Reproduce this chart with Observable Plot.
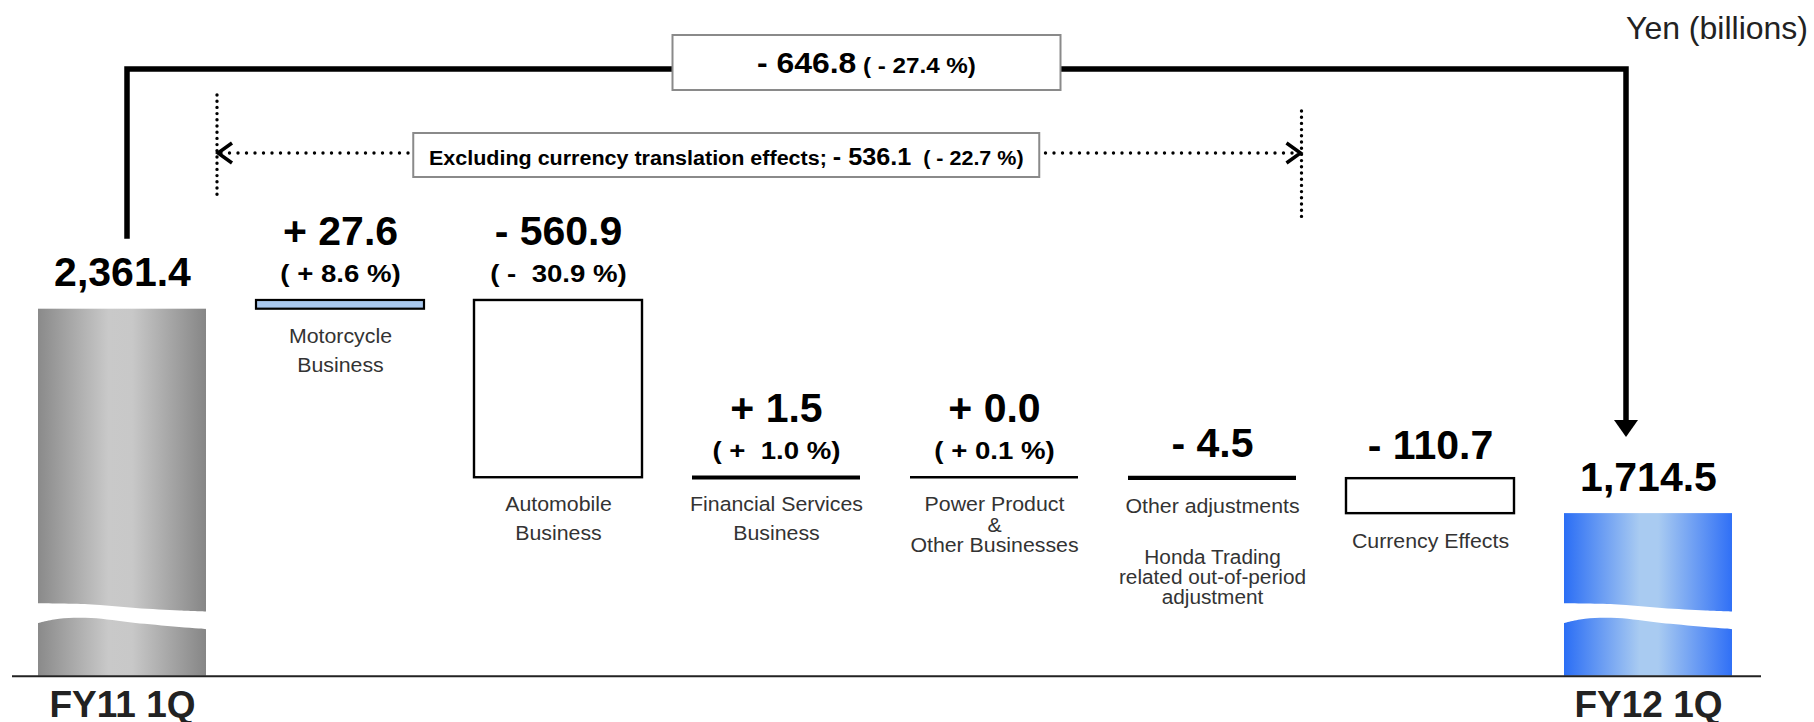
<!DOCTYPE html>
<html><head><meta charset="utf-8">
<script src="https://cdn.jsdelivr.net/npm/d3@7"></script>
<script src="https://cdn.jsdelivr.net/npm/@observablehq/plot@0.6"></script>
<style>
html,body{margin:0;padding:0;background:#fff;}
#chart svg{display:block;}
</style></head><body><div id="chart"></div>
<script>
// ---------- data ----------
const categories = ["FY11 1Q", "Motorcycle", "Automobile", "Financial", "Power", "Other", "Currency", "FY12 1Q"];
const categoryLabels = ["", "Motorcycle\nBusiness", "Automobile\nBusiness", "Financial Services\nBusiness", "Power Product\n&\nOther Businesses", "Other adjustments", "Currency Effects", ""];
const categoryNotes = ["", "", "", "", "", "Honda Trading\nrelated out-of-period\nadjustment", "", ""];
const periodLabels = ["FY11 1Q", "FY12 1Q"];
const totals = [2361.4, 1714.5];
const totalLabels = ["2,361.4", "1,714.5"];
const changes = [27.6, -560.9, 1.5, 0.0, -4.5, -110.7];
const changeLabels = ["+ 27.6", "- 560.9", "+ 1.5", "+ 0.0", "- 4.5", "- 110.7"];
const changePctLabels = ["( + 8.6 %)", "( -  30.9 %)", "( +  1.0 %)", "( + 0.1 %)", "", ""];
const totalChangeLabel = "- 646.8";
const totalChangePctLabel = " ( - 27.4 %)";
const exCurrencyText = "Excluding currency translation effects; ";
const exCurrencyLabel = "- 536.1";
const exCurrencyPctLabel = "  ( - 22.7 %)";
const unitLabel = "Yen (billions)";
const axisBreakValue = 1200;   // y-axis is broken: bars start here
const yTopValue = 2400;

const FONT = "'Liberation Sans', Arial, Helvetica, sans-serif";

// ---------- derived rows ----------
const yRange = [675.7, 296.5];
const pxPerUnit = (yRange[0] - yRange[1]) / (yTopValue - axisBreakValue);
let run = totals[0];
const steps = changes.map((c, i) => {
  const start = run; run += c;
  return {cat: categories[i + 1], start, end: run, change: c, label: changeLabels[i], pct: changePctLabels[i],
          name: categoryLabels[i + 1], note: categoryNotes[i + 1],
          top: Math.max(start, run), bottom: Math.min(start, run),
          flat: Math.abs(c) * pxPerUnit < 3};
});
const totalRows = totals.map((v, i) => ({cat: i ? categories[categories.length - 1] : categories[0], value: v, label: totalLabels[i], period: periodLabels[i]}));

const barsUp = steps.filter(d => !d.flat && d.change > 0);
const barsDown = steps.filter(d => !d.flat && d.change <= 0);
const flats = steps.filter(d => d.flat);
const withPct = steps.filter(d => d.pct);
const noPct = steps.filter(d => !d.pct);
const namesTwo = steps.filter(d => d.name.split("\n").length === 2);
const namesOther = steps.filter(d => d.name && d.name.split("\n").length !== 2);
const notes = steps.filter(d => d.note);

const plot = Plot.plot({
  width: 1814, height: 722,
  marginTop: 0, marginBottom: 0, marginLeft: 12, marginRight: 53,
  x: {domain: categories, range: [37, 1733], paddingInner: 0.23, paddingOuter: 0, axis: null},
  y: {domain: [axisBreakValue, yTopValue], range: yRange, axis: null},
  style: {fontFamily: FONT, background: "#fff", overflow: "visible"},
  marks: [
    Plot.barY(totalRows.slice(0, 1), {x: "cat", y1: axisBreakValue, y2: "value", fill: "url(#gradGray)"}),
    Plot.barY(totalRows.slice(1), {x: "cat", y1: axisBreakValue, y2: "value", fill: "url(#gradBlue)"}),
    Plot.barY(barsUp, {x: "cat", y1: "start", y2: "end", fill: "#a9c8ee", stroke: "#000", strokeWidth: 2.2}),
    Plot.barY(barsDown, {x: "cat", y1: "start", y2: "end", fill: "#fff", stroke: "#000", strokeWidth: 2.4}),
    Plot.tickY(flats, {x: "cat", y: d => (d.start + d.end) / 2, stroke: "#000", strokeWidth: d => d.change === 0 ? 2.5 : 4.2}),
    Plot.ruleY([axisBreakValue], {stroke: "#222", strokeWidth: 2}),
    // value labels
    Plot.text(withPct, {x: "cat", y: "top", text: "label", dy: -55, lineAnchor: "bottom", fontSize: 41, fontWeight: "bold", fill: "#000"}),
    Plot.text(withPct, {x: "cat", y: "top", text: "pct", dy: -18, lineAnchor: "bottom", fontSize: 24, fontWeight: "bold", fill: "#000"}),
    Plot.text(noPct, {x: "cat", y: "top", text: "label", dy: -20, lineAnchor: "bottom", fontSize: 41, fontWeight: "bold", fill: "#000"}),
    Plot.text(totalRows, {x: "cat", y: "value", text: "label", dy: -23, lineAnchor: "bottom", fontSize: 41, fontWeight: "bold", fill: "#000"}),
    Plot.text(totalRows, {x: "cat", y: axisBreakValue, text: "period", dy: 41, lineAnchor: "bottom", fontSize: 37, fontWeight: "bold", fill: "#222"}),
    // category labels
    Plot.text(namesTwo, {x: "cat", y: "bottom", text: "name", dy: 12.9, lineAnchor: "top", lineHeight: 1.42, fontSize: 20.5, fill: "#333"}),
    Plot.text(namesOther, {x: "cat", y: "bottom", text: "name", dy: 19.4, lineAnchor: "top", lineHeight: 1.0, fontSize: 20.5, fill: "#333"}),
    Plot.text(notes, {x: "cat", y: "bottom", text: "note", dy: 71, lineAnchor: "top", lineHeight: 1.0, fontSize: 20, fill: "#333"})
  ]
});

document.getElementById("chart").appendChild(plot);

// ---------- annotations ----------
const svg = d3.select(plot);
const xs = plot.scale("x"), ys = plot.scale("y");
const bw = xs.bandwidth;
const bx = c => xs.apply(c);
const cx = c => xs.apply(c) + bw / 2;
const yb = ys.apply(axisBreakValue);

// horizontal stretch helper (reference type is set slightly wide)
function stretch(node, s) {
  const b = node.getBBox();
  const c = b.x + b.width / 2;
  const t = node.getAttribute("transform") || "";
  node.setAttribute("transform", `${t} translate(${c},0) scale(${s},1) translate(${-c},0)`);
}
const pctSet = new Set(changePctLabels.filter(Boolean));
svg.selectAll("text").filter(function() { return pctSet.has(this.textContent); }).each(function() { stretch(this, 1.15); });
const nameSet = new Set(categoryLabels.concat(categoryNotes).flatMap(s => s.split("\n")).filter(Boolean));
svg.selectAll("text").filter(function() { return this.textContent && [...this.querySelectorAll("tspan")].length === 0 && nameSet.has(this.textContent); }).each(function() { stretch(this, 1.04); });
svg.selectAll("text").filter(function() { return this.querySelectorAll("tspan").length > 0 && categoryLabels.concat(categoryNotes).includes([...this.querySelectorAll("tspan")].map(t => t.textContent).join("\n")); }).each(function() { stretch(this, 1.04); });

const defs = svg.insert("defs", ":first-child");
function grad(id, stops) {
  const g = defs.append("linearGradient").attr("id", id).attr("x1", 0).attr("x2", 1).attr("y1", 0).attr("y2", 0);
  stops.forEach(([o, c]) => g.append("stop").attr("offset", o).attr("stop-color", c));
}
grad("gradGray", [[0, "#8a8a8a"], [0.42, "#c9c9c9"], [0.56, "#c8c8c8"], [1, "#868686"]]);
grad("gradBlue", [[0, "#2b6ef5"], [0.45, "#a9cbf1"], [0.56, "#a9cbf1"], [1, "#3070f6"]]);

// axis-break waves
const waveTop = [[0, -72.5], [0.3, -71.5], [0.58, -67.8], [0.84, -65.2], [1, -64.2]];
const waveBot = [[0, -52.5], [0.13, -57], [0.32, -57.7], [0.58, -52.8], [1, -46.5]];
const wline = d3.line().curve(d3.curveCatmullRom.alpha(0.5));
for (const c of [categories[0], categories[categories.length - 1]]) {
  const x0 = bx(c) - 1, w = bw + 2;
  const top = waveTop.map(([t, d]) => [x0 + t * w, yb + d]);
  const bot = waveBot.map(([t, d]) => [x0 + t * w, yb + d]).reverse();
  const d = wline(top) + wline(bot).replace(/^M/, "L") + "Z";
  svg.append("path").attr("d", d).attr("fill", "#fff");
}

// total change bracket
const yTop = 69;
const xl = cx(categories[0]) + 5, xr = cx(categories[categories.length - 1]) - 22;
const yl = ys.apply(totals[0]) - 70;
const tip = ys.apply(totals[1]) - 76;
svg.append("path").attr("d", `M${xl},${yl}V${yTop}H${xr}V${tip - 14}`)
  .attr("fill", "none").attr("stroke", "#000").attr("stroke-width", 5.5);
svg.append("path").attr("d", `M${xr - 12},${tip - 17}L${xr + 12},${tip - 17}L${xr},${tip}Z`).attr("fill", "#000");
const b1cx = (xl + xr) / 2 - 10;
svg.append("rect").attr("x", b1cx - 194).attr("y", 35).attr("width", 388).attr("height", 55)
  .attr("fill", "#fff").attr("stroke", "#8a8a8a").attr("stroke-width", 2);
const t1 = svg.append("text").attr("x", b1cx).attr("y", 73).attr("text-anchor", "middle")
  .attr("font-weight", "bold").attr("font-family", FONT).attr("fill", "#000").style("white-space", "pre");
t1.append("tspan").attr("font-size", 29).text(totalChangeLabel);
t1.append("tspan").attr("font-size", 22).text(totalChangePctLabel);
stretch(t1.node(), 1.1);

// excluding-currency dotted bracket
const dl = bx(categories[1]) - 39, dr = bx(categories[5]) + bw + 5.5;
const dy = 153;
svg.append("line").attr("x1", dl).attr("x2", dl).attr("y1", 95).attr("y2", 200)
  .attr("stroke", "#000").attr("stroke-width", 3.4).attr("stroke-linecap", "round").attr("stroke-dasharray", "0 6.2");
svg.append("line").attr("x1", dr).attr("x2", dr).attr("y1", 111).attr("y2", 217)
  .attr("stroke", "#000").attr("stroke-width", 3.4).attr("stroke-linecap", "round").attr("stroke-dasharray", "0 6.2");
svg.append("line").attr("x1", dl + 4).attr("x2", dr - 4).attr("y1", dy).attr("y2", dy)
  .attr("stroke", "#000").attr("stroke-width", 3.4).attr("stroke-linecap", "round").attr("stroke-dasharray", "0 8.5");
svg.append("path").attr("d", `M${dl + 15},${dy - 10}L${dl + 1},${dy}L${dl + 15},${dy + 10}`)
  .attr("fill", "none").attr("stroke", "#000").attr("stroke-width", 3.5);
svg.append("path").attr("d", `M${dr - 15},${dy - 10}L${dr - 1},${dy}L${dr - 15},${dy + 10}`)
  .attr("fill", "none").attr("stroke", "#000").attr("stroke-width", 3.5);
const b2cx = (dl + dr) / 2 - 33;
svg.append("rect").attr("x", b2cx - 313).attr("y", 133).attr("width", 626).attr("height", 44)
  .attr("fill", "#fff").attr("stroke", "#8a8a8a").attr("stroke-width", 2);
const t2 = svg.append("text").attr("x", b2cx).attr("y", 165).attr("text-anchor", "middle")
  .attr("font-weight", "bold").attr("font-family", FONT).attr("fill", "#000").style("white-space", "pre");
t2.append("tspan").attr("font-size", 20.5).text(exCurrencyText);
t2.append("tspan").attr("font-size", 24).text(exCurrencyLabel);
t2.append("tspan").attr("font-size", 20.5).text(exCurrencyPctLabel);
stretch(t2.node(), 1.05);

// unit label
svg.append("text").attr("x", 1808).attr("y", 39).attr("text-anchor", "end")
  .attr("font-size", 32).attr("font-family", FONT).attr("fill", "#222").text(unitLabel);
</script></body></html>
